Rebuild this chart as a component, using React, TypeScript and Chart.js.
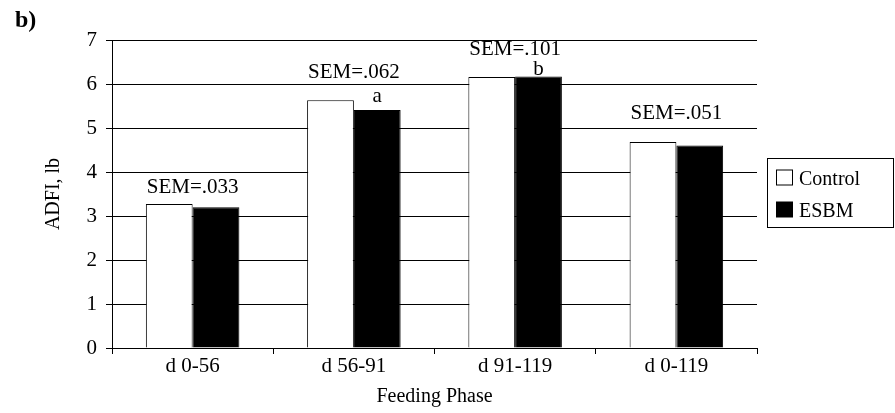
import React, { useEffect, useRef } from "react";
import { Chart, registerables } from "chart.js";

Chart.register(...registerables);

const categories = ["d 0-56", "d 56-91", "d 91-119", "d 0-119"];
const controlValues = [3.27, 5.63, 6.16, 4.68];
const esbmValues = [3.2, 5.41, 6.17, 4.6];
const semLabels = ["SEM=.033", "SEM=.062", "SEM=.101", "SEM=.051"];
const letterLabels = ["", "a", "b", ""];
const yTicks = [0, 1, 2, 3, 4, 5, 6, 7];

const FONT = "'Liberation Serif', 'Times New Roman', serif";

const semGap = [11, 22, 22, 23];
const letterGap = [0, 8, 2, 0];

const annotationPlugin = {
  id: "annotations",
  afterDatasetsDraw(chart: any) {
    const { ctx } = chart;
    const xScale = chart.scales.x;
    const m0 = chart.getDatasetMeta(0);
    const m1 = chart.getDatasetMeta(1);
    ctx.save();
    ctx.fillStyle = "#000";
    ctx.font = `21px ${FONT}`;
    ctx.textAlign = "center";
    ctx.textBaseline = "alphabetic";
    categories.forEach((_, i) => {
      const top = Math.min(m0.data[i].y, m1.data[i].y);
      const cx = xScale.getPixelForValue(i);
      ctx.fillText(semLabels[i], cx, top - semGap[i]);
      if (letterLabels[i]) {
        ctx.fillText(letterLabels[i], m1.data[i].x, m1.data[i].y - letterGap[i]);
      }
    });
    ctx.restore();
  },
  afterDraw(chart: any) {
    const { ctx } = chart;
    ctx.save();
    ctx.fillStyle = "#000";
    ctx.font = `bold 24px ${FONT}`;
    ctx.textAlign = "left";
    ctx.textBaseline = "alphabetic";
    ctx.fillText("b)", 15, 27);
    const bx = 767.5, by = 158.5, bw = 126, bh = 69;
    ctx.strokeStyle = "#000";
    ctx.lineWidth = 1;
    ctx.fillStyle = "#fff";
    ctx.fillRect(bx, by, bw, bh);
    ctx.strokeRect(bx, by, bw, bh);
    const items = chart.data.datasets.map((d: any) => ({ label: d.label, fill: d.backgroundColor }));
    const rows = [185, 217];
    ctx.font = `20px ${FONT}`;
    items.forEach((it: any, i: number) => {
      const base = rows[i];
      ctx.fillStyle = it.fill;
      ctx.fillRect(776.5, base - 15, 16, 15);
      ctx.strokeStyle = "#000";
      ctx.strokeRect(776.5, base - 15, 16, 15);
      ctx.fillStyle = "#000";
      ctx.fillText(it.label, 799, base);
    });
    ctx.restore();
  },
};

export default function App() {
  const ref = useRef<HTMLCanvasElement | null>(null);
  useEffect(() => {
    if (!ref.current) return;
    const chart = new Chart(ref.current, {
      type: "bar",
      data: {
        labels: categories,
        datasets: [
          {
            label: "Control",
            data: controlValues,
            backgroundColor: "#ffffff",
            borderColor: "#000000",
            borderWidth: 1,
            categoryPercentage: 0.58,
            barPercentage: 1.0,
          },
          {
            label: "ESBM",
            data: esbmValues,
            backgroundColor: "#000000",
            borderColor: "#000000",
            borderWidth: 1,
            categoryPercentage: 0.58,
            barPercentage: 1.0,
          },
        ],
      },
      options: {
        responsive: false,
        animation: false,
        events: [],
        layout: { padding: { top: 40, right: 138, bottom: 0, left: 0 } },
        plugins: {
          legend: { display: false },
          tooltip: { enabled: false },
          title: { display: false },
        },
        scales: {
          x: {
            type: "category",
            grid: {
              offset: true,
              drawOnChartArea: false,
              drawTicks: true,
              tickLength: 6,
              color: "#000",
              lineWidth: 1,
            },
            border: { display: true, color: "#000", width: 1 },
            ticks: {
              color: "#000",
              font: { family: FONT, size: 21 },
              padding: 0,
              maxRotation: 0,
              autoSkip: false,
            },
            title: {
              display: true,
              text: "Feeding Phase",
              color: "#000",
              font: { family: FONT, size: 20 },
              padding: { top: 0, bottom: 4 },
            },
            afterFit: (scale: any) => {
              scale.height = 65;
            },
          },
          y: {
            min: 0,
            max: 7,
            afterBuildTicks: (scale: any) => {
              scale.ticks = yTicks.map((v) => ({ value: v }));
            },
            grid: {
              color: "#000",
              lineWidth: 1,
              tickLength: 6,
              drawTicks: true,
            },
            border: { display: true, color: "#000", width: 1 },
            ticks: {
              color: "#000",
              font: { family: FONT, size: 21 },
              padding: 9,
            },
            title: {
              display: true,
              text: "ADFI, lb",
              color: "#000",
              font: { family: FONT, size: 20 },
              padding: { top: 42, bottom: 0 },
            },
            afterFit: (scale: any) => {
              scale.width = 112;
            },
          },
        },
      },
      plugins: [annotationPlugin],
    });
    return () => chart.destroy();
  }, []);
  return (
    <div style={{ position: "absolute", left: 0, top: 0, width: 895, height: 413, background: "#fff" }}>
      <canvas ref={ref} width={895} height={413} style={{ display: "block", width: 895, height: 413 }} />
    </div>
  );
}
